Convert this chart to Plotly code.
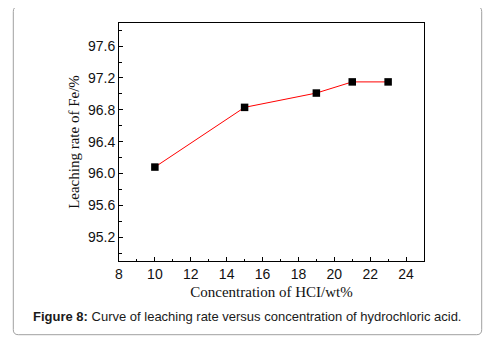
import plotly.graph_objects as go

concentration = [10, 15, 19, 21, 23]
leaching_rate = [96.08, 96.83, 97.01, 97.15, 97.15]
x_ticks = [8, 10, 12, 14, 16, 18, 20, 22, 24]
y_ticks = [95.2, 95.6, 96.0, 96.4, 96.8, 97.2, 97.6]
y_tick_labels = ["95.2", "95.6", "96.0", "96.4", "96.8", "97.2", "97.6"]

OFF = 8  # page body margin offset
W, H = 502 - OFF, 344 - OFF
L, R, T, B = 119 - OFF, 78, 23 - OFF, 83
pw, ph = W - L - R, H - T - B

def px(x):
    return (x - OFF - L) / pw

def py(y):
    return (H - B - (y - OFF)) / ph

fig = go.Figure()
fig.add_trace(go.Scatter(
    x=concentration, y=leaching_rate, mode="lines+markers",
    line=dict(color="#ff0000", width=1),
    marker=dict(symbol="square", size=7.5, color="black"),
    showlegend=False,
))

# rounded outer border
x0, x1, y0, y1, r = 13.3, 481.7, 6.5, 334.7, 5
path = (
    f"M {px(x0 + r)},{py(y0)} L {px(x1 - r)},{py(y0)} "
    f"Q {px(x1)},{py(y0)} {px(x1)},{py(y0 + r)} "
    f"L {px(x1)},{py(y1 - r)} Q {px(x1)},{py(y1)} {px(x1 - r)},{py(y1)} "
    f"L {px(x0 + r)},{py(y1)} Q {px(x0)},{py(y1)} {px(x0)},{py(y1 - r)} "
    f"L {px(x0)},{py(y0 + r)} Q {px(x0)},{py(y0)} {px(x0 + r)},{py(y0)} Z"
)
fig.add_shape(type="path", path=path, xref="paper", yref="paper",
              line=dict(color="#a0a0a0", width=1), layer="below")

fig.add_annotation(
    x=px(247.5), y=py(316.5), xref="paper", yref="paper",
    text="<b>Figure 8:</b> Curve of leaching rate versus concentration of hydrochloric acid.",
    showarrow=False, xanchor="center", yanchor="middle",
    font=dict(family="Liberation Sans, Arial", size=13, color="#1a1a1a"),
)

fig.update_layout(
    width=W, height=H,
    margin=dict(l=L, r=R, t=T, b=B),
    paper_bgcolor="white", plot_bgcolor="white",
    xaxis=dict(
        range=[8, 25], tickvals=x_ticks, ticks="inside", ticklen=4,
        tickcolor="black", showline=True, linecolor="black", linewidth=1,
        mirror=True, showgrid=False, zeroline=False,
        minor=dict(ticks="inside", dtick=1, tick0=8, ticklen=2.5, tickcolor="black"),
        tickfont=dict(family="Liberation Sans, Arial", size=14, color="#111"),
        title=dict(text="Concentration of HCI/wt%", standoff=5,
                   font=dict(family="Liberation Serif, Times New Roman", size=15, color="#111")),
    ),
    yaxis=dict(
        range=[94.9, 97.89], tickvals=y_ticks, ticktext=y_tick_labels,
        ticks="inside", ticklen=4,
        tickcolor="black", showline=True, linecolor="black", linewidth=1,
        mirror=True, showgrid=False, zeroline=False,
        minor=dict(ticks="inside", dtick=0.2, tick0=95.2, ticklen=2.5, tickcolor="black"),
        tickfont=dict(family="Liberation Sans, Arial", size=14, color="#111"),
        title=dict(text="Leaching rate of Fe/%", standoff=4,
                   font=dict(family="Liberation Serif, Times New Roman", size=15, color="#111")),
    ),
)

fig.write_html("out.html")
